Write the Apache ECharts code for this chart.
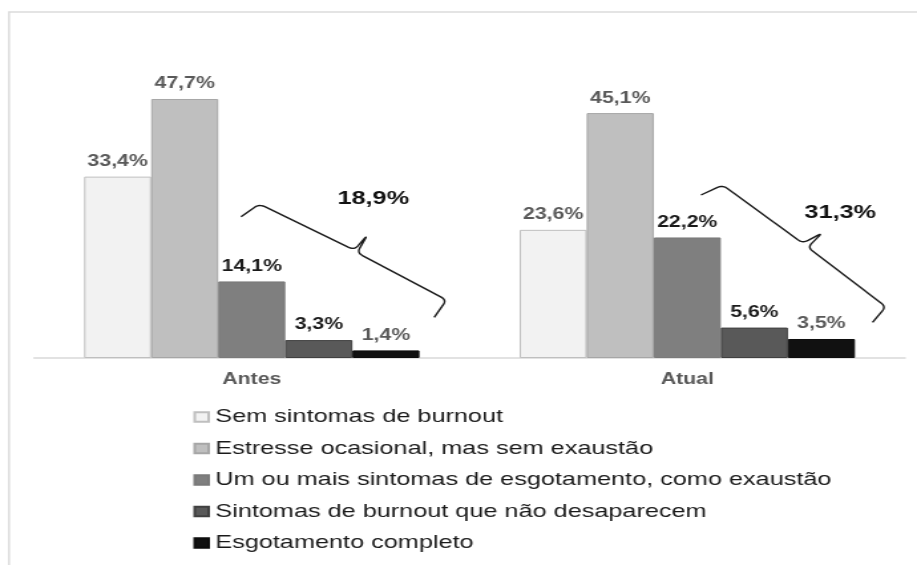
<!DOCTYPE html>
<html lang="pt-BR">
<head>
<meta charset="utf-8">
<title>Sintomas de burnout: antes e atual</title>
<script src="https://cdn.jsdelivr.net/npm/echarts@6/dist/echarts.min.js"></script>
<style>
  html, body { margin: 0; padding: 0; background: #ffffff; }
  #wrap { width: 917px; height: 565px; overflow: hidden; position: relative; }
  /* the chart is laid out narrow and widened horizontally */
  #chart { width: 690px; height: 565px; transform: scaleX(1.328986); transform-origin: 0 0; }
</style>
</head>
<body>
<div id="wrap"><div id="chart"></div></div>
<script>
// Categories (periods)
const categories = ['Antes', 'Atual'];

// Legend names
const seriesNames = [
  'Sem sintomas de burnout',
  'Estresse ocasional, mas sem exaustão',
  'Um ou mais sintomas de esgotamento, como exaustão',
  'Sintomas de burnout que não desaparecem',
  'Esgotamento completo'
];

// Percentages per period (Antes, Atual)
const semSintomas = [33.4, 23.6];
const estresseOcasional = [47.7, 45.1];
const umOuMaisSintomas = [14.1, 22.2];
const sintomasPersistentes = [3.3, 5.6];
const esgotamentoCompleto = [1.4, 3.5];

// Totals shown beside the braces (three most severe groups)
const braceTotals = ['18,9%', '31,3%'];

const seriesValues = [semSintomas, estresseOcasional, umOuMaisSintomas, sintomasPersistentes, esgotamentoCompleto];

const fills   = ['#f2f2f2', '#bfbfbf', '#7f7f7f', '#595959', '#111111'];
const borders = ['#bfbfbf', '#a6a6a6', '#7a7a7a', '#404040', '#0d0d0d'];
const labelColors = ['#595959', '#595959', '#1a1a1a', '#1a1a1a', '#595959'];

const FONT = '"Liberation Sans", Arial, Helvetica, sans-serif';

const fmt = v => v.toFixed(1).replace('.', ',') + '%';

const chart = echarts.init(document.getElementById('chart'), null, { renderer: 'canvas' });

chart.setOption({
  animation: false,
  backgroundColor: '#ffffff',
  grid: { left: 25.6, right: 9, top: 86.5, bottom: 207, containLabel: false },
  xAxis: {
    type: 'category',
    data: categories,
    axisTick: { show: false },
    axisLine: { lineStyle: { color: '#d9d9d9', width: 1.5 } },
    axisLabel: { color: '#595959', fontFamily: FONT, fontWeight: 'bold', fontSize: 16, margin: 14 }
  },
  yAxis: { type: 'value', min: 0, max: 50, show: false },
  legend: {
    orient: 'vertical',
    left: 140.5,
    top: 402,
    itemWidth: 10.5,
    itemHeight: 9.5,
    itemGap: 11.5,
    icon: 'rect',
    textStyle: { color: '#1a1a1a', fontFamily: FONT, fontSize: 19, lineHeight: 20 },
    data: seriesNames
  },
  series: seriesNames.map((name, i) => ({
    name: name,
    type: 'bar',
    data: seriesValues[i],
    barGap: '0%',
    barCategoryGap: '23%',
    itemStyle: { color: fills[i], borderColor: borders[i], borderWidth: 1 },
    label: {
      show: true,
      position: 'top',
      distance: 7,
      formatter: p => fmt(p.value),
      color: labelColors[i],
      fontFamily: FONT,
      fontWeight: 'bold',
      fontSize: 16
    }
  }))
});

// Brace outlines, as pixel offsets from each period's baseline centre
const braceShapes = [
  [[-8.1, -141.3], [5.6, -154], [77.1, -108], [87.1, -123], [79.2, -105.3], [146.6, -58], [137.3, -40.7]],
  [[10.3, -163], [26.6, -173], [86.8, -114.7], [101.8, -125.3], [90.5, -110.7], [149.5, -51.3], [139.4, -35.7]]
];
const totalOffsets = [[91.4, -159], [115.1, -145]];

// Turn a corner list into a polyline with softened (quadratic) corners
function roundedPoints(pts, r) {
  const out = [pts[0]];
  for (let i = 1; i < pts.length - 1; i++) {
    const p = pts[i], a = pts[i - 1], b = pts[i + 1];
    const la = Math.hypot(p[0] - a[0], p[1] - a[1]);
    const lb = Math.hypot(b[0] - p[0], b[1] - p[1]);
    const ra = Math.min(r, la / 2), rb = Math.min(r, lb / 2);
    const p1 = [p[0] + (a[0] - p[0]) * ra / la, p[1] + (a[1] - p[1]) * ra / la];
    const p2 = [p[0] + (b[0] - p[0]) * rb / lb, p[1] + (b[1] - p[1]) * rb / lb];
    for (let k = 0; k <= 6; k++) {
      const t = k / 6, u = 1 - t;
      out.push([
        u * u * p1[0] + 2 * u * t * p[0] + t * t * p2[0],
        u * u * p1[1] + 2 * u * t * p[1] + t * t * p2[1]
      ]);
    }
  }
  out.push(pts[pts.length - 1]);
  return out;
}

const graphics = [{
  type: 'rect',
  silent: true,
  shape: { x: 6.8, y: 12, width: 800, height: 700 },
  style: { fill: 'none', stroke: '#dcdcdc', lineWidth: 1.5 },
  z: -1
}];

categories.forEach((cat, ci) => {
  const origin = chart.convertToPixel({ xAxisIndex: 0, yAxisIndex: 0 }, [ci, 0]);
  const pts = braceShapes[ci].map(([dx, dy]) => [origin[0] + dx, origin[1] + dy]);
  graphics.push({
    type: 'polyline',
    silent: true,
    shape: { points: roundedPoints(pts, 5) },
    style: { fill: null, stroke: '#1a1a1a', lineWidth: 1.4, lineJoin: 'round' }
  });
  graphics.push({
    type: 'text',
    silent: true,
    x: origin[0] + totalOffsets[ci][0],
    y: origin[1] + totalOffsets[ci][1],
    style: {
      text: braceTotals[ci],
      fill: '#111111',
      font: 'bold 19px ' + FONT,
      align: 'center',
      verticalAlign: 'middle'
    }
  });
});

chart.setOption({ graphic: graphics });
</script>
</body>
</html>
